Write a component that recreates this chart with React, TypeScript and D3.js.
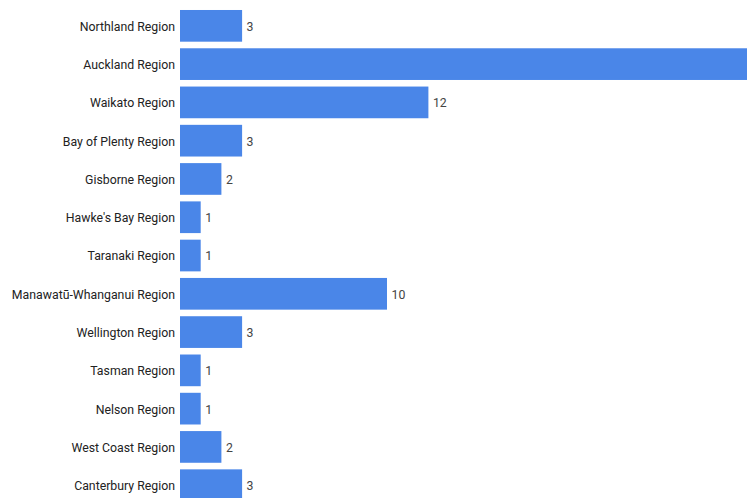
import React from "react";
import * as d3 from "d3";

const categories = [
  "Northland Region",
  "Auckland Region",
  "Waikato Region",
  "Bay of Plenty Region",
  "Gisborne Region",
  "Hawke's Bay Region",
  "Taranaki Region",
  "Manawatū-Whanganui Region",
  "Wellington Region",
  "Tasman Region",
  "Nelson Region",
  "West Coast Region",
  "Canterbury Region",
];
const values = [3, 34, 12, 3, 2, 1, 1, 10, 3, 1, 1, 2, 3];

const W = 747;
const H = 498;

export default function App() {
  const x = d3.scaleLinear().domain([0, 10]).range([180, 387]);
  const y = d3
    .scaleBand<string>()
    .domain(categories)
    .range([6.7, 6.7 + 13 * 38.28])
    .paddingInner(0.172)
    .paddingOuter(0.086);
  const font = "Roboto, Arial, sans-serif";
  return (
    <svg
      width={W}
      height={H}
      style={{ position: "absolute", left: 0, top: 0, background: "#fff" }}
    >
      {categories.map((c, i) => {
        const y0 = y(c)!;
        const bh = y.bandwidth();
        const cy = y0 + bh / 2 + 0.6;
        const xe = x(values[i]);
        return (
          <g key={c}>
            <rect x={x(0)} y={y0} width={xe - x(0)} height={bh} fill="#4a86e8" />
            <text
              x={175}
              y={cy}
              dy="0.35em"
              textAnchor="end"
              fontFamily={font}
              fontSize={12.3}
              fill="#222"
            >
              {c}
            </text>
            {xe + 20 < W && (
              <text
                x={xe + 4.5}
                y={cy}
                dy="0.35em"
                fontFamily={font}
                fontSize={12.3}
                fill="#444"
              >
                {values[i]}
              </text>
            )}
          </g>
        );
      })}
    </svg>
  );
}
